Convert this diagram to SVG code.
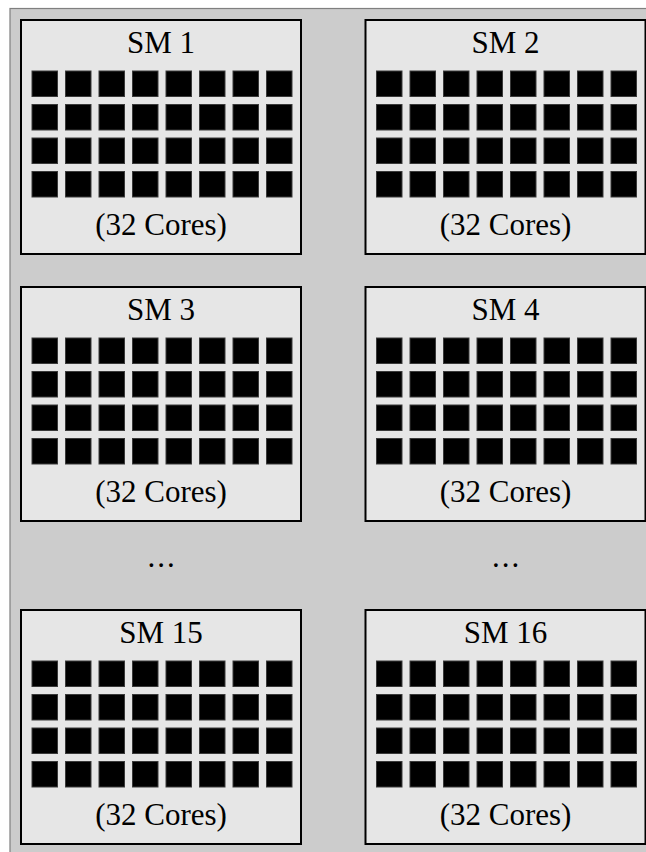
<svg xmlns="http://www.w3.org/2000/svg" xmlns:xlink="http://www.w3.org/1999/xlink" width="646" height="852" viewBox="0 0 646 852">
<style>
.frame{fill:#cccccc;stroke:#7f7f7f;stroke-width:1.2}
.sm{fill:#e6e6e6;stroke:#000;stroke-width:2}
.core{fill:#000;stroke:#3a3a3a;stroke-width:1}
.t{font-family:"Liberation Serif","DejaVu Serif",serif;font-size:31px;fill:#000;text-anchor:middle}
.dots{letter-spacing:2px}
</style>
<defs>
<g id="cores">
<rect class="core" x="0" y="0" width="25.5" height="25.5"/><rect class="core" x="33.5" y="0" width="25.5" height="25.5"/><rect class="core" x="67" y="0" width="25.5" height="25.5"/><rect class="core" x="100.5" y="0" width="25.5" height="25.5"/><rect class="core" x="134" y="0" width="25.5" height="25.5"/><rect class="core" x="167.5" y="0" width="25.5" height="25.5"/><rect class="core" x="201" y="0" width="25.5" height="25.5"/><rect class="core" x="234.5" y="0" width="25.5" height="25.5"/>
<rect class="core" x="0" y="33.5" width="25.5" height="25.5"/><rect class="core" x="33.5" y="33.5" width="25.5" height="25.5"/><rect class="core" x="67" y="33.5" width="25.5" height="25.5"/><rect class="core" x="100.5" y="33.5" width="25.5" height="25.5"/><rect class="core" x="134" y="33.5" width="25.5" height="25.5"/><rect class="core" x="167.5" y="33.5" width="25.5" height="25.5"/><rect class="core" x="201" y="33.5" width="25.5" height="25.5"/><rect class="core" x="234.5" y="33.5" width="25.5" height="25.5"/>
<rect class="core" x="0" y="67" width="25.5" height="25.5"/><rect class="core" x="33.5" y="67" width="25.5" height="25.5"/><rect class="core" x="67" y="67" width="25.5" height="25.5"/><rect class="core" x="100.5" y="67" width="25.5" height="25.5"/><rect class="core" x="134" y="67" width="25.5" height="25.5"/><rect class="core" x="167.5" y="67" width="25.5" height="25.5"/><rect class="core" x="201" y="67" width="25.5" height="25.5"/><rect class="core" x="234.5" y="67" width="25.5" height="25.5"/>
<rect class="core" x="0" y="100.5" width="25.5" height="25.5"/><rect class="core" x="33.5" y="100.5" width="25.5" height="25.5"/><rect class="core" x="67" y="100.5" width="25.5" height="25.5"/><rect class="core" x="100.5" y="100.5" width="25.5" height="25.5"/><rect class="core" x="134" y="100.5" width="25.5" height="25.5"/><rect class="core" x="167.5" y="100.5" width="25.5" height="25.5"/><rect class="core" x="201" y="100.5" width="25.5" height="25.5"/><rect class="core" x="234.5" y="100.5" width="25.5" height="25.5"/>
</g>
</defs>
<rect class="frame" x="10" y="8.5" width="700" height="900"/>
<g id="sm1" transform="translate(21,20)">
<rect class="sm" x="0" y="0" width="280" height="234"/>
<text class="t" x="140" y="33">SM 1</text>
<use xlink:href="#cores" x="11" y="51"/>
<text class="t" x="140" y="215">(32 Cores)</text>
</g>
<g id="sm2" transform="translate(365.5,20)">
<rect class="sm" x="0" y="0" width="280" height="234"/>
<text class="t" x="140" y="33">SM 2</text>
<use xlink:href="#cores" x="11" y="51"/>
<text class="t" x="140" y="215">(32 Cores)</text>
</g>
<g id="sm3" transform="translate(21,287)">
<rect class="sm" x="0" y="0" width="280" height="234"/>
<text class="t" x="140" y="33">SM 3</text>
<use xlink:href="#cores" x="11" y="51"/>
<text class="t" x="140" y="215">(32 Cores)</text>
</g>
<g id="sm4" transform="translate(365.5,287)">
<rect class="sm" x="0" y="0" width="280" height="234"/>
<text class="t" x="140" y="33">SM 4</text>
<use xlink:href="#cores" x="11" y="51"/>
<text class="t" x="140" y="215">(32 Cores)</text>
</g>
<g id="dots">
<text class="t dots" x="162" y="567">...</text>
<text class="t dots" x="506.5" y="567">...</text>
</g>
<g id="sm15" transform="translate(21,610)">
<rect class="sm" x="0" y="0" width="280" height="234"/>
<text class="t" x="140" y="33">SM 15</text>
<use xlink:href="#cores" x="11" y="51"/>
<text class="t" x="140" y="215">(32 Cores)</text>
</g>
<g id="sm16" transform="translate(365.5,610)">
<rect class="sm" x="0" y="0" width="280" height="234"/>
<text class="t" x="140" y="33">SM 16</text>
<use xlink:href="#cores" x="11" y="51"/>
<text class="t" x="140" y="215">(32 Cores)</text>
</g>
<g id="connectors"/>
</svg>
